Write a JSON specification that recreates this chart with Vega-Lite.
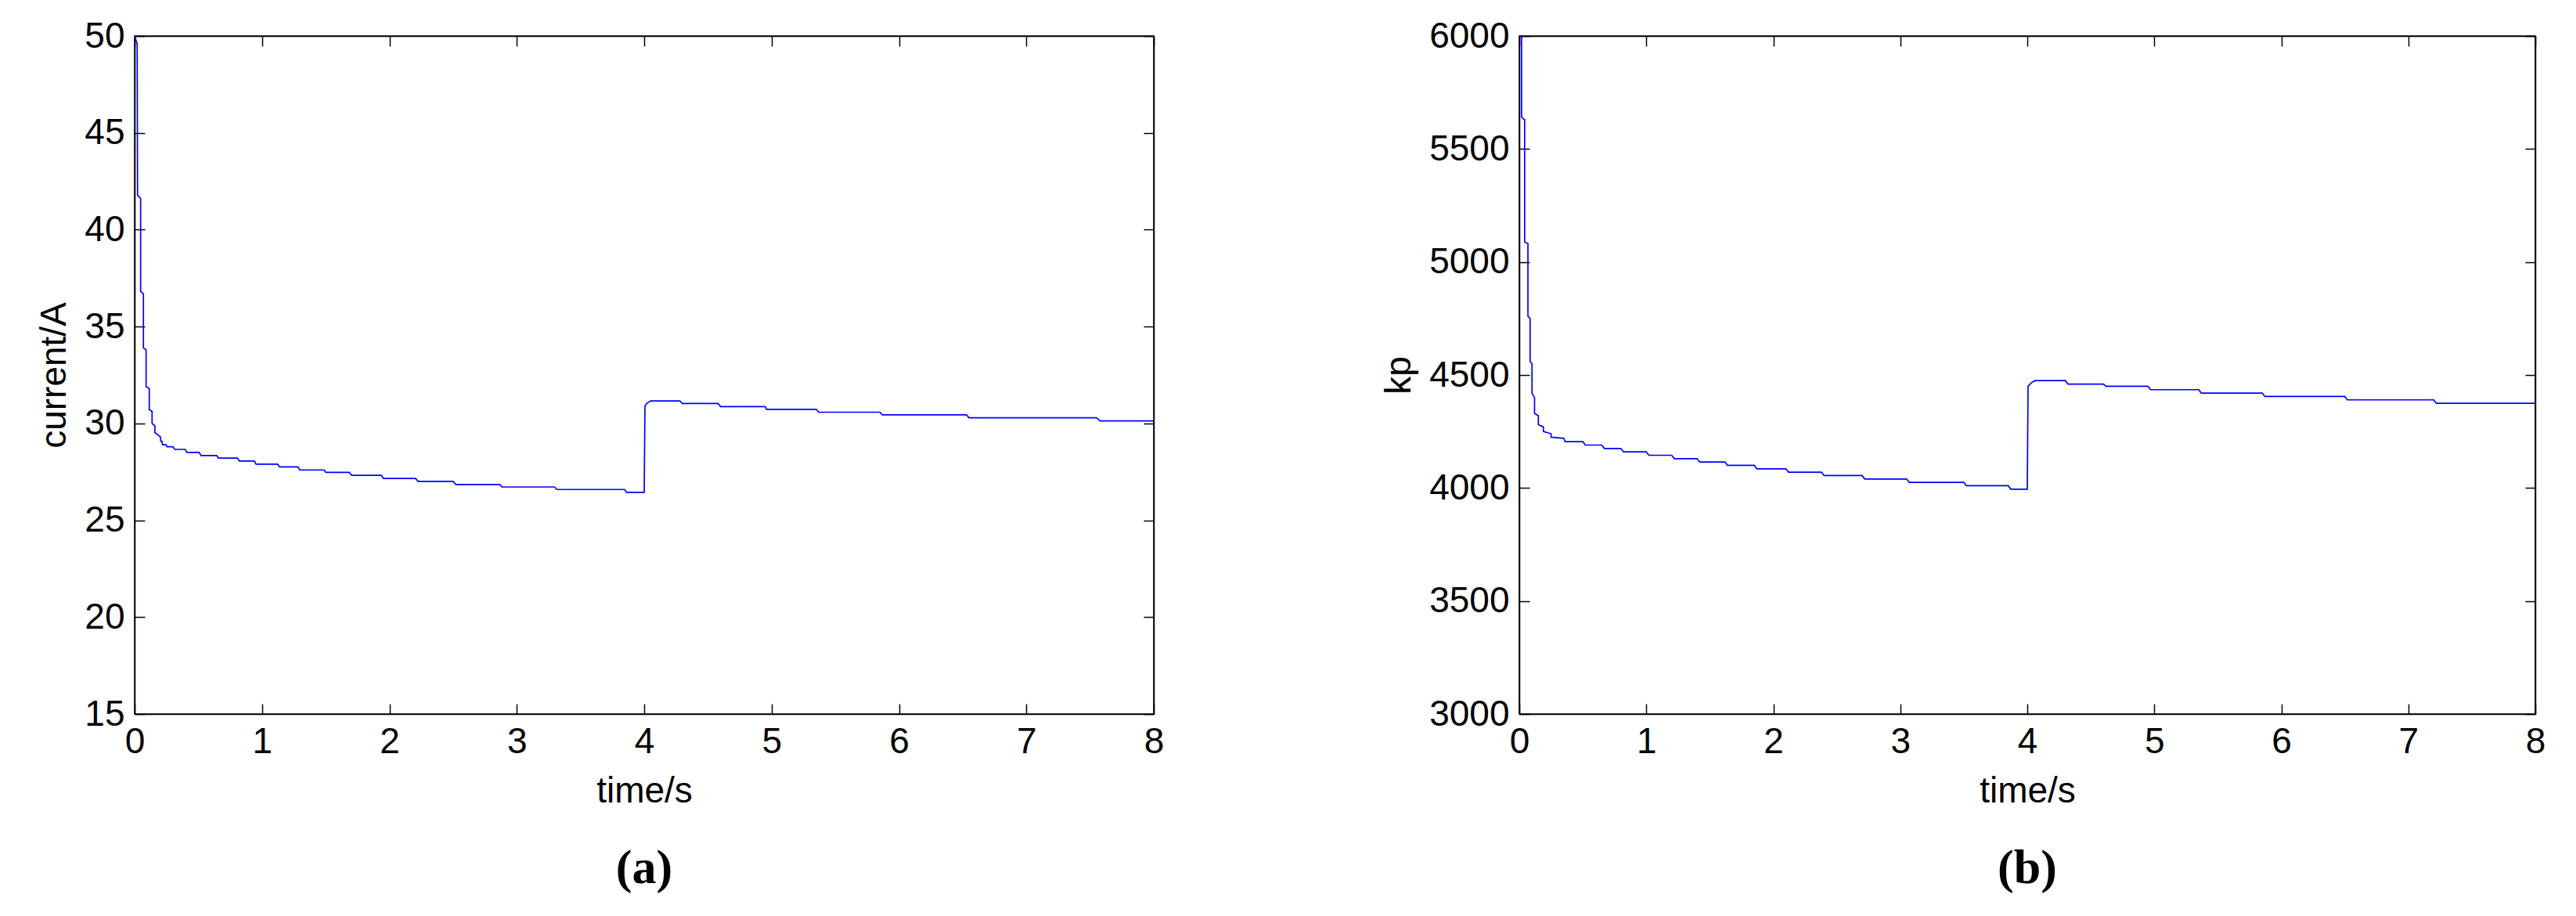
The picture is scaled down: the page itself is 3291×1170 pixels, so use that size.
{
  "$schema": "https://vega.github.io/schema/vega-lite/v6.json",
  "background": "white",
  "padding": {"left": 46, "top": 22, "right": 0, "bottom": 0},
  "datasets": {
    "current": [
      {"t": 0, "v": 50}, {"t": 0.02, "v": 49.6}, {"t": 0.023, "v": 41.78}, {"t": 0.047, "v": 41.62},
      {"t": 0.047, "v": 36.82}, {"t": 0.069, "v": 36.69}, {"t": 0.069, "v": 33.9}, {"t": 0.09, "v": 33.8},
      {"t": 0.09, "v": 31.9}, {"t": 0.115, "v": 31.8}, {"t": 0.115, "v": 30.71}, {"t": 0.137, "v": 30.62},
      {"t": 0.137, "v": 30.0}, {"t": 0.159, "v": 29.88}, {"t": 0.159, "v": 29.53}, {"t": 0.203, "v": 29.3},
      {"t": 0.205, "v": 29.08}, {"t": 0.215, "v": 29.08}, {"t": 0.22, "v": 28.9}, {"t": 0.247, "v": 28.9},
      {"t": 0.255, "v": 28.8}, {"t": 0.301, "v": 28.8}, {"t": 0.315, "v": 28.66}, {"t": 0.397, "v": 28.66},
      {"t": 0.411, "v": 28.5}, {"t": 0.507, "v": 28.5}, {"t": 0.521, "v": 28.34}, {"t": 0.644, "v": 28.34},
      {"t": 0.658, "v": 28.21}, {"t": 0.808, "v": 28.21}, {"t": 0.822, "v": 28.06}, {"t": 0.94, "v": 28.06},
      {"t": 0.953, "v": 27.9}, {"t": 1.123, "v": 27.9}, {"t": 1.137, "v": 27.76}, {"t": 1.282, "v": 27.76},
      {"t": 1.296, "v": 27.6}, {"t": 1.488, "v": 27.6}, {"t": 1.501, "v": 27.47}, {"t": 1.685, "v": 27.47},
      {"t": 1.704, "v": 27.32}, {"t": 1.937, "v": 27.32}, {"t": 1.953, "v": 27.16}, {"t": 2.205, "v": 27.16},
      {"t": 2.225, "v": 27.01}, {"t": 2.501, "v": 27.01}, {"t": 2.521, "v": 26.85}, {"t": 2.868, "v": 26.85},
      {"t": 2.882, "v": 26.72}, {"t": 3.296, "v": 26.72}, {"t": 3.315, "v": 26.59}, {"t": 3.845, "v": 26.59},
      {"t": 3.863, "v": 26.44}, {"t": 4.0, "v": 26.44}, {"t": 4.006, "v": 30.9}, {"t": 4.02, "v": 31.03},
      {"t": 4.05, "v": 31.16}, {"t": 4.28, "v": 31.16}, {"t": 4.3, "v": 31.03}, {"t": 4.58, "v": 31.03},
      {"t": 4.6, "v": 30.87}, {"t": 4.95, "v": 30.87}, {"t": 4.96, "v": 30.73}, {"t": 5.35, "v": 30.73},
      {"t": 5.37, "v": 30.58}, {"t": 5.85, "v": 30.58}, {"t": 5.87, "v": 30.44}, {"t": 6.53, "v": 30.44},
      {"t": 6.55, "v": 30.29}, {"t": 7.55, "v": 30.29}, {"t": 7.58, "v": 30.13}, {"t": 8.0, "v": 30.13}
    ],
    "kp": [
      {"t": 0, "v": 6000}, {"t": 0.018, "v": 6000}, {"t": 0.018, "v": 5642}, {"t": 0.04, "v": 5630},
      {"t": 0.042, "v": 5630}, {"t": 0.042, "v": 5088}, {"t": 0.068, "v": 5082}, {"t": 0.068, "v": 4760},
      {"t": 0.085, "v": 4750}, {"t": 0.085, "v": 4560}, {"t": 0.1, "v": 4550}, {"t": 0.1, "v": 4420},
      {"t": 0.12, "v": 4400}, {"t": 0.12, "v": 4330}, {"t": 0.15, "v": 4320}, {"t": 0.15, "v": 4280},
      {"t": 0.19, "v": 4270}, {"t": 0.19, "v": 4250}, {"t": 0.25, "v": 4240}, {"t": 0.25, "v": 4225},
      {"t": 0.35, "v": 4220}, {"t": 0.36, "v": 4205}, {"t": 0.5, "v": 4205}, {"t": 0.52, "v": 4190},
      {"t": 0.65, "v": 4190}, {"t": 0.67, "v": 4175}, {"t": 0.8, "v": 4175}, {"t": 0.82, "v": 4160},
      {"t": 1.0, "v": 4160}, {"t": 1.02, "v": 4145}, {"t": 1.2, "v": 4145}, {"t": 1.22, "v": 4130},
      {"t": 1.4, "v": 4130}, {"t": 1.42, "v": 4115}, {"t": 1.62, "v": 4115}, {"t": 1.64, "v": 4100},
      {"t": 1.85, "v": 4100}, {"t": 1.87, "v": 4085}, {"t": 2.1, "v": 4085}, {"t": 2.12, "v": 4070},
      {"t": 2.38, "v": 4070}, {"t": 2.4, "v": 4055}, {"t": 2.7, "v": 4055}, {"t": 2.72, "v": 4040},
      {"t": 3.05, "v": 4040}, {"t": 3.07, "v": 4025}, {"t": 3.5, "v": 4025}, {"t": 3.52, "v": 4010},
      {"t": 3.85, "v": 4010}, {"t": 3.87, "v": 3995}, {"t": 4.0, "v": 3995}, {"t": 4.006, "v": 4450},
      {"t": 4.03, "v": 4465}, {"t": 4.06, "v": 4475}, {"t": 4.3, "v": 4475}, {"t": 4.32, "v": 4460},
      {"t": 4.6, "v": 4460}, {"t": 4.62, "v": 4450}, {"t": 4.95, "v": 4450}, {"t": 4.97, "v": 4435},
      {"t": 5.35, "v": 4435}, {"t": 5.37, "v": 4420}, {"t": 5.85, "v": 4420}, {"t": 5.87, "v": 4405},
      {"t": 6.5, "v": 4405}, {"t": 6.52, "v": 4390}, {"t": 7.2, "v": 4390}, {"t": 7.22, "v": 4375},
      {"t": 8.0, "v": 4375}
    ]
  },
  "config": {
    "view": {"stroke": "black", "strokeWidth": 1.5},
    "axis": {
      "labelFont": "Liberation Sans", "labelFontSize": 46, "labelColor": "black",
      "titleFont": "Liberation Sans", "titleFontSize": 46, "titleFontWeight": "normal", "titleColor": "black",
      "tickColor": "black", "tickWidth": 1.5, "tickSize": -13, "labelPadding": 26,
      "domainColor": "black", "domainWidth": 1.5, "grid": false,
      "labelFlush": false, "labelOverlap": false
    },
    "title": {"font": "Liberation Serif", "fontSize": 62, "fontWeight": "bold", "color": "black", "orient": "bottom", "anchor": "middle", "offset": 46}
  },
  "hconcat": [
    {
      "title": "(a)",
      "width": 1302,
      "height": 866,
      "data": {"name": "current"},
      "layer": [
        {
          "mark": {"type": "line", "color": "#0000ff", "strokeWidth": 1.7},
          "encoding": {
            "x": {"field": "t", "type": "quantitative", "scale": {"domain": [0, 8], "nice": false, "zero": false},
                  "axis": {"orient": "bottom", "title": "time/s", "values": [0,1,2,3,4,5,6,7,8], "titlePadding": 18}},
            "y": {"field": "v", "type": "quantitative", "scale": {"domain": [15, 50], "nice": false, "zero": false},
                  "axis": {"orient": "left", "title": "current/A", "values": [15,20,25,30,35,40,45,50], "titlePadding": 14}}
          }
        },
        {
          "mark": {"type": "line", "strokeOpacity": 0},
          "encoding": {
            "x": {"field": "t", "type": "quantitative", "axis": {"orient": "top", "labels": false, "title": null, "values": [0,1,2,3,4,5,6,7,8]}},
            "y": {"field": "v", "type": "quantitative", "axis": {"orient": "right", "labels": false, "title": null, "values": [15,20,25,30,35,40,45,50]}}
          }
        }
      ],
      "resolve": {"axis": {"x": "independent", "y": "independent"}}
    },
    {
      "title": "(b)",
      "width": 1298,
      "height": 866,
      "data": {"name": "kp"},
      "layer": [
        {
          "mark": {"type": "line", "color": "#0000ff", "strokeWidth": 1.7},
          "encoding": {
            "x": {"field": "t", "type": "quantitative", "scale": {"domain": [0, 8], "nice": false, "zero": false},
                  "axis": {"orient": "bottom", "title": "time/s", "values": [0,1,2,3,4,5,6,7,8], "titlePadding": 18}},
            "y": {"field": "v", "type": "quantitative", "scale": {"domain": [3000, 6000], "nice": false, "zero": false},
                  "axis": {"orient": "left", "title": "kp", "format": "d", "values": [3000,3500,4000,4500,5000,5500,6000], "titlePadding": 14}}
          }
        },
        {
          "mark": {"type": "line", "strokeOpacity": 0},
          "encoding": {
            "x": {"field": "t", "type": "quantitative", "axis": {"orient": "top", "labels": false, "title": null, "values": [0,1,2,3,4,5,6,7,8]}},
            "y": {"field": "v", "type": "quantitative", "axis": {"orient": "right", "labels": false, "title": null, "values": [3000,3500,4000,4500,5000,5500,6000]}}
          }
        }
      ],
      "resolve": {"axis": {"x": "independent", "y": "independent"}}
    }
  ],
  "spacing": 275
}
